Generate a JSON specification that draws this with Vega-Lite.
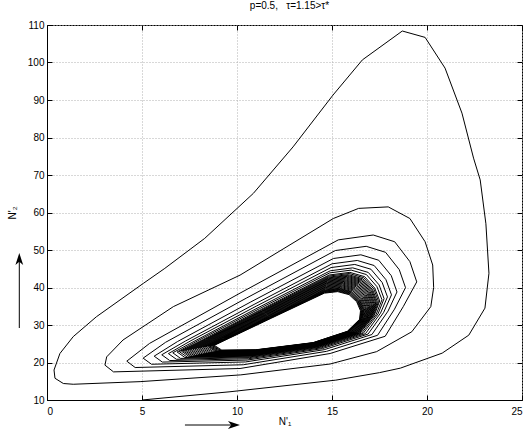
{
"$schema": "https://vega.github.io/schema/vega-lite/v6.json",
"width": 475, "height": 375,
"autosize": {"type": "none"},
"padding": {"left": 47, "top": 25, "right": 2, "bottom": 36},
"background": "white",
"config": {
 "font": "Liberation Sans",
 "view": {"stroke": "black", "strokeWidth": 1},
 "axis": {"labelFontSize": 10, "labelColor": "black", "labelFont": "Liberation Sans", "tickColor": "black", "domainColor": "black", "titleFontSize": 10, "titleFontWeight": "normal", "titleColor": "black", "titleFont": "Liberation Sans", "gridDash": [1, 2], "gridColor": "#b0b0b0", "gridOpacity": 1, "tickSize": -5}
},
"title": {"text": "p=0.5,\u00a0\u00a0\u00a0τ=1.15>τ*", "fontSize": 10, "fontWeight": "normal", "offset": 9, "color": "black", "font": "Liberation Sans", "dx": 5},
"datasets": {
 "traj": [
{"x":5.0,"y":10.0},{"x":9.63,"y":12.2},{"x":15.2,"y":15.3},{"x":17.5,"y":17.3},{"x":18.6,"y":18.5},{"x":20.8,"y":22.5},{"x":22.2,"y":27.3},{"x":23.05,"y":34.5},{"x":23.26,"y":43.8},{"x":23.1,"y":57},{"x":22.8,"y":68.7},{"x":22.45,"y":74.5},{"x":21.84,"y":86.5},{"x":20.95,"y":98.5},{"x":19.9,"y":106.7},{"x":18.7,"y":108.4},{"x":16.6,"y":100.7},{"x":15.05,"y":91.3},{"x":12.95,"y":77.5},{"x":10.86,"y":65.1},{"x":8.3,"y":53.1},{"x":6.2,"y":45.1},{"x":5.07,"y":41.1},{"x":2.6,"y":32.2},{"x":1.38,"y":26.9},{"x":0.68,"y":22.4},{"x":0.37,"y":18.0},
{"x":0.42,"y":15.8},{"x":0.86,"y":14.4},{"x":1.38,"y":14.2},{"x":4.9,"y":14.9},{"x":10.2,"y":16.7},{"x":14.9,"y":19.6},{"x":17.35,"y":22.9},{"x":19.2,"y":28.2},{"x":20.2,"y":34.9},{"x":20.35,"y":40},{"x":20.3,"y":46},{"x":19.9,"y":52.2},{"x":19.1,"y":58.4},{"x":17.96,"y":61.5},{"x":16.4,"y":61.1},{"x":15.07,"y":58.4},{"x":10.16,"y":43.3},{"x":6.65,"y":34.9},{"x":4.0,"y":26},{"x":3.14,"y":21.5},
{"x":3.05,"y":19.3},{"x":3.5,"y":17.5},{"x":10.16,"y":18.4},{"x":14.9,"y":22.4},{"x":17.8,"y":27.0},{"x":18.75,"y":34.9},{"x":19.46,"y":41.5},{"x":19.1,"y":46.9},{"x":18.3,"y":52.2},{"x":17.17,"y":54.0},{"x":15.33,"y":52.7},{"x":10.16,"y":38.5},{"x":5.4,"y":25.1},
{"x":4.2,"y":20.36},{"x":4.64,"y":18.66},{"x":10.33,"y":19.4},{"x":14.72,"y":22.98},{"x":17.4,"y":27.26},{"x":18.29,"y":34.22},{"x":18.87,"y":39.96},{"x":18.54,"y":44.76},{"x":17.82,"y":49.38},{"x":16.8,"y":50.98},{"x":15.18,"y":49.86},{"x":10.49,"y":37.16},{"x":6.24,"y":25.38},
{"x":5.06,"y":21.16},{"x":5.5,"y":19.53},{"x":10.45,"y":20.15},{"x":14.59,"y":23.42},{"x":17.1,"y":27.46},{"x":17.95,"y":33.71},{"x":18.42,"y":38.81},{"x":18.12,"y":43.16},{"x":17.46,"y":47.27},{"x":16.52,"y":48.72},{"x":15.07,"y":47.73},{"x":10.73,"y":36.16},{"x":6.87,"y":25.59},
{"x":5.64,"y":21.69},{"x":6.07,"y":20.11},{"x":10.54,"y":20.65},{"x":14.5,"y":23.71},{"x":16.9,"y":27.59},{"x":17.72,"y":33.37},{"x":18.13,"y":38.04},{"x":17.84,"y":42.09},{"x":17.22,"y":45.86},{"x":16.33,"y":47.21},{"x":15.0,"y":46.31},{"x":10.9,"y":35.49},{"x":7.29,"y":25.73},
{"x":6.04,"y":22.06},{"x":6.46,"y":20.52},{"x":10.6,"y":21.0},{"x":14.43,"y":23.91},{"x":16.76,"y":27.68},{"x":17.55,"y":33.13},{"x":17.92,"y":37.5},{"x":17.64,"y":41.34},{"x":17.05,"y":44.87},{"x":16.2,"y":46.15},{"x":14.95,"y":45.32},{"x":11.01,"y":35.02},{"x":7.58,"y":25.83},
{"x":6.39,"y":22.37},{"x":6.81,"y":20.86},{"x":10.65,"y":21.3},{"x":14.38,"y":24.08},{"x":16.64,"y":27.75},{"x":17.42,"y":32.93},{"x":17.74,"y":37.03},{"x":17.48,"y":40.69},{"x":16.91,"y":44.02},{"x":16.09,"y":45.24},{"x":14.91,"y":44.46},{"x":11.11,"y":34.61},{"x":7.84,"y":25.91},
{"x":6.62,"y":22.59},{"x":7.03,"y":21.1},{"x":10.68,"y":21.5},{"x":14.34,"y":24.2},{"x":16.56,"y":27.81},{"x":17.32,"y":32.79},{"x":17.63,"y":36.73},{"x":17.36,"y":40.27},{"x":16.81,"y":43.46},{"x":16.01,"y":44.64},{"x":14.88,"y":43.9},{"x":11.18,"y":34.35},{"x":8.0,"y":25.97},
{"x":6.85,"y":22.8},{"x":7.26,"y":21.33},{"x":10.71,"y":21.7},{"x":14.31,"y":24.31},{"x":16.48,"y":27.86},{"x":17.23,"y":32.66},{"x":17.51,"y":36.42},{"x":17.25,"y":39.84},{"x":16.72,"y":42.89},{"x":15.94,"y":44.03},{"x":14.85,"y":43.33},{"x":11.24,"y":34.08},{"x":8.17,"y":26.02},
{"x":6.96,"y":22.9},{"x":7.38,"y":21.44},{"x":10.73,"y":21.8},{"x":14.29,"y":24.37},{"x":16.44,"y":27.88},{"x":17.19,"y":32.59},{"x":17.45,"y":36.26},{"x":17.2,"y":39.62},{"x":16.67,"y":42.61},{"x":15.9,"y":43.73},{"x":14.83,"y":43.04},{"x":11.28,"y":33.94},{"x":8.26,"y":26.05},
{"x":7.08,"y":23.01},{"x":7.49,"y":21.56},{"x":10.75,"y":21.9},{"x":14.27,"y":24.43},{"x":16.4,"y":27.91},{"x":17.14,"y":32.52},{"x":17.39,"y":36.11},{"x":17.14,"y":39.41},{"x":16.62,"y":42.33},{"x":15.86,"y":43.43},{"x":14.82,"y":42.76},{"x":11.31,"y":33.81},{"x":8.34,"y":26.08},
{"x":7.16,"y":23.09},{"x":7.58,"y":21.65},{"x":10.76,"y":21.98},{"x":14.26,"y":24.47},{"x":16.37,"y":27.93},{"x":17.11,"y":32.47},{"x":17.34,"y":35.99},{"x":17.1,"y":39.25},{"x":16.58,"y":42.12},{"x":15.83,"y":43.2},{"x":14.81,"y":42.55},{"x":11.33,"y":33.71},{"x":8.4,"y":26.1},
{"x":7.25,"y":23.17},{"x":7.66,"y":21.73},{"x":10.77,"y":22.05},{"x":14.24,"y":24.52},{"x":16.34,"y":27.95},{"x":17.07,"y":32.42},{"x":17.3,"y":35.88},{"x":17.06,"y":39.09},{"x":16.55,"y":41.91},{"x":15.8,"y":42.98},{"x":14.8,"y":42.33},{"x":11.36,"y":33.61},{"x":8.47,"y":26.12},
{"x":7.33,"y":23.25},{"x":7.75,"y":21.82},{"x":10.79,"y":22.13},{"x":14.23,"y":24.56},{"x":16.31,"y":27.97},{"x":17.04,"y":32.37},{"x":17.25,"y":35.76},{"x":17.01,"y":38.93},{"x":16.51,"y":41.7},{"x":15.78,"y":42.75},{"x":14.79,"y":42.12},{"x":11.38,"y":33.51},{"x":8.53,"y":26.14},
{"x":7.42,"y":23.33},{"x":7.83,"y":21.91},{"x":10.8,"y":22.2},{"x":14.22,"y":24.6},{"x":16.28,"y":27.99},{"x":17.0,"y":32.32},{"x":17.21,"y":35.65},{"x":16.97,"y":38.77},{"x":16.48,"y":41.48},{"x":15.75,"y":42.52},{"x":14.78,"y":41.91},{"x":11.41,"y":33.41},{"x":8.59,"y":26.16},
{"x":7.51,"y":23.41},{"x":7.92,"y":22.0},{"x":10.81,"y":22.28},{"x":14.2,"y":24.65},{"x":16.25,"y":28.01},{"x":16.97,"y":32.27},{"x":17.17,"y":35.53},{"x":16.93,"y":38.61},{"x":16.44,"y":41.27},{"x":15.72,"y":42.3},{"x":14.76,"y":41.7},{"x":11.43,"y":33.31},{"x":8.66,"y":26.19},
{"x":7.59,"y":23.49},{"x":8.0,"y":22.08},{"x":10.82,"y":22.35},{"x":14.19,"y":24.69},{"x":16.22,"y":28.03},{"x":16.93,"y":32.21},{"x":17.12,"y":35.42},{"x":16.89,"y":38.45},{"x":16.4,"y":41.06},{"x":15.69,"y":42.07},{"x":14.75,"y":41.48},{"x":11.46,"y":33.21},{"x":8.72,"y":26.21},
{"x":7.68,"y":23.57},{"x":8.09,"y":22.17},{"x":10.84,"y":22.43},{"x":14.18,"y":24.73},{"x":16.19,"y":28.05},{"x":16.9,"y":32.16},{"x":17.08,"y":35.3},{"x":16.85,"y":38.29},{"x":16.37,"y":40.85},{"x":15.67,"y":41.84},{"x":14.74,"y":41.27},{"x":11.48,"y":33.11},{"x":8.78,"y":26.23},
{"x":7.77,"y":23.65},{"x":8.17,"y":22.26},{"x":10.85,"y":22.5},{"x":14.16,"y":24.78},{"x":16.16,"y":28.07},{"x":16.86,"y":32.11},{"x":17.03,"y":35.19},{"x":16.8,"y":38.13},{"x":16.33,"y":40.64},{"x":15.64,"y":41.62},{"x":14.73,"y":41.06},{"x":11.5,"y":33.01},{"x":8.84,"y":26.25},
{"x":7.85,"y":23.73},{"x":8.26,"y":22.34},{"x":10.86,"y":22.58},{"x":14.15,"y":24.82},{"x":16.13,"y":28.09},{"x":16.83,"y":32.06},{"x":16.99,"y":35.07},{"x":16.76,"y":37.97},{"x":16.3,"y":40.43},{"x":15.61,"y":41.39},{"x":14.72,"y":40.84},{"x":11.53,"y":32.91},{"x":8.91,"y":26.27},
{"x":7.94,"y":23.81},{"x":8.35,"y":22.43},{"x":10.87,"y":22.65},{"x":14.14,"y":24.87},{"x":16.1,"y":28.11},{"x":16.8,"y":32.01},{"x":16.94,"y":34.96},{"x":16.72,"y":37.81},{"x":16.26,"y":40.22},{"x":15.58,"y":41.17},{"x":14.71,"y":40.63},{"x":11.55,"y":32.81},{"x":8.97,"y":26.29},
{"x":8.02,"y":23.88},{"x":8.43,"y":22.52},{"x":10.89,"y":22.73},{"x":14.12,"y":24.91},{"x":16.07,"y":28.12},{"x":16.76,"y":31.96},{"x":16.9,"y":34.84},{"x":16.68,"y":37.64},{"x":16.22,"y":40.0},{"x":15.55,"y":40.94},{"x":14.7,"y":40.42},{"x":11.58,"y":32.7},{"x":9.03,"y":26.31},
{"x":8.11,"y":23.96},{"x":8.52,"y":22.6},{"x":10.9,"y":22.8},{"x":14.11,"y":24.95},{"x":16.04,"y":28.14},{"x":16.73,"y":31.91},{"x":16.86,"y":34.72},{"x":16.64,"y":37.48},{"x":16.19,"y":39.79},{"x":15.52,"y":40.71},{"x":14.69,"y":40.2},{"x":11.6,"y":32.6},{"x":9.1,"y":26.33},
{"x":8.2,"y":24.04},{"x":8.6,"y":22.69},{"x":10.91,"y":22.88},{"x":14.09,"y":25.0},{"x":16.01,"y":28.16},{"x":16.69,"y":31.86},{"x":16.81,"y":34.61},{"x":16.59,"y":37.32},{"x":16.15,"y":39.58},{"x":15.5,"y":40.49},{"x":14.68,"y":39.99},{"x":11.63,"y":32.5},{"x":9.16,"y":26.35},
{"x":8.28,"y":24.12},{"x":8.69,"y":22.78},{"x":10.92,"y":22.95},{"x":14.08,"y":25.04},{"x":15.98,"y":28.18},{"x":16.66,"y":31.81},{"x":16.77,"y":34.49},{"x":16.55,"y":37.16},{"x":16.12,"y":39.37},{"x":15.47,"y":40.26},{"x":14.67,"y":39.78},{"x":11.65,"y":32.4},{"x":9.22,"y":26.37},
{"x":8.37,"y":24.2},{"x":8.77,"y":22.87},{"x":10.94,"y":23.03},{"x":14.07,"y":25.08},{"x":15.95,"y":28.2},{"x":16.62,"y":31.76},{"x":16.72,"y":34.38},{"x":16.51,"y":37.0},{"x":16.08,"y":39.16},{"x":15.44,"y":40.03},{"x":14.66,"y":39.57},{"x":11.68,"y":32.3},{"x":9.29,"y":26.4},
{"x":8.46,"y":24.28},{"x":8.86,"y":22.95},{"x":10.95,"y":23.1},{"x":14.05,"y":25.13},{"x":15.92,"y":28.22},{"x":16.59,"y":31.7},{"x":16.68,"y":34.26},{"x":16.47,"y":36.84},{"x":16.04,"y":38.95},{"x":15.41,"y":39.81},{"x":14.64,"y":39.35},{"x":11.7,"y":32.2},{"x":9.35,"y":26.42},
{"x":8.51,"y":24.34},{"x":8.92,"y":23.01},{"x":10.96,"y":23.15},{"x":14.05,"y":25.16},{"x":15.9,"y":28.24},{"x":16.57,"y":31.67},{"x":16.65,"y":34.19},{"x":16.44,"y":36.74},{"x":16.02,"y":38.81},{"x":15.39,"y":39.66},{"x":14.64,"y":39.21},{"x":11.72,"y":32.14},{"x":9.39,"y":26.43},
{"x":8.57,"y":24.39},{"x":8.97,"y":23.07},{"x":10.97,"y":23.2},{"x":14.04,"y":25.18},{"x":15.88,"y":28.25},{"x":16.54,"y":31.64},{"x":16.62,"y":34.11},{"x":16.41,"y":36.63},{"x":16.0,"y":38.66},{"x":15.37,"y":39.5},{"x":14.63,"y":39.07},{"x":11.73,"y":32.07},{"x":9.43,"y":26.44},
{"x":8.63,"y":24.44},{"x":9.03,"y":23.13},{"x":10.97,"y":23.25},{"x":14.03,"y":25.21},{"x":15.86,"y":28.26},{"x":16.52,"y":31.6},{"x":16.59,"y":34.03},{"x":16.38,"y":36.52},{"x":15.97,"y":38.52},{"x":15.36,"y":39.35},{"x":14.62,"y":38.93},{"x":11.75,"y":32.0},{"x":9.47,"y":26.46},
{"x":8.69,"y":24.49},{"x":9.09,"y":23.18},{"x":10.98,"y":23.3},{"x":14.02,"y":25.24},{"x":15.84,"y":28.27},{"x":16.5,"y":31.57},{"x":16.56,"y":33.95},{"x":16.36,"y":36.41},{"x":15.95,"y":38.38},{"x":15.34,"y":39.2},{"x":14.61,"y":38.78},{"x":11.77,"y":31.93},{"x":9.52,"y":26.47},
{"x":8.74,"y":24.55},{"x":9.14,"y":23.24},{"x":10.99,"y":23.35},{"x":14.01,"y":25.27},{"x":15.82,"y":28.29},{"x":16.47,"y":31.53},{"x":16.53,"y":33.88},{"x":16.33,"y":36.31},{"x":15.92,"y":38.24},{"x":15.32,"y":39.05},{"x":14.61,"y":38.64},{"x":11.78,"y":31.87},{"x":9.56,"y":26.49},
{"x":8.8,"y":24.6},{"x":9.2,"y":23.3},{"x":11.0,"y":23.4},{"x":14.0,"y":25.3},{"x":15.8,"y":28.3},{"x":16.45,"y":31.5},{"x":16.5,"y":33.8},{"x":16.3,"y":36.2},{"x":15.9,"y":38.1},{"x":15.3,"y":38.9},{"x":14.6,"y":38.5},{"x":11.8,"y":31.8},{"x":9.6,"y":26.5},{"x":8.8,"y":24.6}
 ],
 "shafts": [{"x":7.26,"x2":9.74,"y":3.33,"y2":3.33},{"x":-1.458,"x2":-1.458,"y":29.2,"y2":47.1}],
 "heads": [{"x":9.84,"y":3.33,"d":"r"},{"x":-1.458,"y":47.6,"d":"u"}]
},
"layer": [
 {"data": {"name": "traj"},
  "mark": {"type": "line", "color": "black", "strokeWidth": 1},
  "encoding": {
   "x": {"field": "x", "type": "quantitative", "scale": {"domain": [0, 25], "nice": false, "zero": false}, "axis": {"orient": "bottom", "title": "N'₁", "values": [0, 5, 10, 15, 20, 25], "grid": true, "labelPadding": 11, "titlePadding": 0}},
   "y": {"field": "y", "type": "quantitative", "scale": {"domain": [10, 110], "nice": false, "zero": false}, "axis": {"orient": "left", "title": "N'₂", "values": [10, 20, 30, 40, 50, 60, 70, 80, 90, 100, 110], "grid": true, "labelPadding": 8, "titlePadding": 10}},
   "order": {"value": null}
  }},
 {"data": {"name": "shafts"},
  "mark": {"type": "rule", "color": "black", "strokeWidth": 1},
  "encoding": {
   "x": {"field": "x", "type": "quantitative", "axis": null},
   "x2": {"field": "x2"},
   "y": {"field": "y", "type": "quantitative", "axis": null},
   "y2": {"field": "y2"}
  }},
 {"data": {"name": "heads"},
  "transform": [{"filter": "datum.d === 'r'"}],
  "mark": {"type": "point", "shape": "M1,0L-1,-0.65L-0.45,0L-1,0.65Z", "filled": true, "color": "black", "size": 144, "opacity": 1},
  "encoding": {
   "x": {"field": "x", "type": "quantitative", "axis": null},
   "y": {"field": "y", "type": "quantitative", "axis": null}
  }},
 {"data": {"name": "heads"},
  "transform": [{"filter": "datum.d === 'u'"}],
  "mark": {"type": "point", "shape": "M0,-1L-0.65,1L0,0.45L0.65,1Z", "filled": true, "color": "black", "size": 144, "opacity": 1},
  "encoding": {
   "x": {"field": "x", "type": "quantitative", "axis": {"orient": "top", "labels": false, "title": null, "grid": false, "domain": false, "values": [0, 5, 10, 15, 20, 25]}},
   "y": {"field": "y", "type": "quantitative", "axis": {"orient": "right", "labels": false, "title": null, "grid": false, "domain": false, "values": [10, 20, 30, 40, 50, 60, 70, 80, 90, 100, 110]}}
  }}
],
"resolve": {"axis": {"x": "independent", "y": "independent"}}
}
